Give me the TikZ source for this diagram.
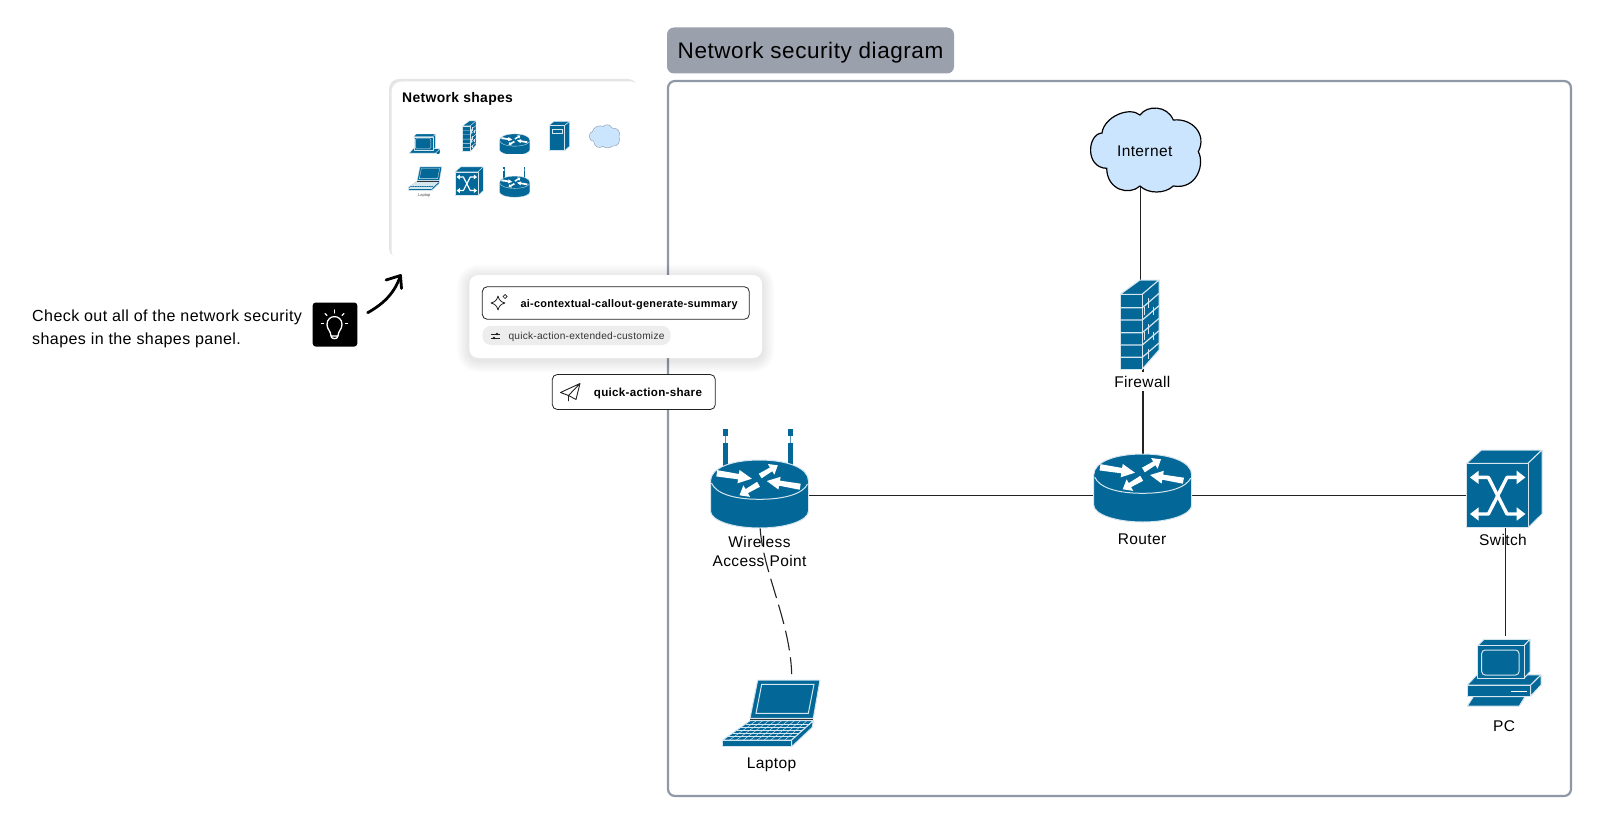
\documentclass[tikz,border=0pt]{standalone}
\usepackage{fontspec}
\setmainfont{Liberation Sans}
\newfontfamily\uifont[LetterSpace=2.5]{Liberation Sans}
\newfontfamily\uibold[LetterSpace=2.5]{Liberation Sans Bold}
\usetikzlibrary{calc,arrows.meta}
\definecolor{iconblue}{HTML}{036897}
\definecolor{iconlight}{HTML}{D5E6EF}
\definecolor{cloudblue}{HTML}{CCE5FF}
\definecolor{framegray}{HTML}{8F98A6}
\definecolor{titlegray}{HTML}{9AA1AC}
\definecolor{inkdark}{HTML}{222222}
\newcommand\ks{1}
\newcommand\iconarrow[5]{%
  \coordinate (N) at ($(#1)!.62!(#2)$);
  \fill[white] ($(#1)!#3!90:(#2)$) -- ($(N)!#4!90:(#2)$) -- ($(N)!#5!90:(#2)$) -- (#2)
    -- ($(N)!#5!-90:(#2)$) -- ($(N)!#4!-90:(#2)$) -- ($(#1)!#3!-90:(#2)$) -- cycle;}
\newcommand\routerbody{%
    \path[iconface] (-49,-13) -- (-49,17) .. controls (-49,26.4) and (-27,34) .. (0,34)
      .. controls (27,34) and (49,26.4) .. (49,17) -- (49,-13)
      .. controls (49,-26.4) and (27,-34) .. (0,-34) .. controls (-27,-34) and (-49,-26.4) .. (-49,-13) -- cycle;
    \path[draw=iconlight,line width=\ks pt] (-48,-11) .. controls (-44,-1) and (-27,5.3) .. (0,5.3)
      .. controls (27,5.3) and (44,-1) .. (48,-10);
    \iconarrow{-42.7,-20.7}{-7.7,-15.3}{.09}{.2}{.5}
    \iconarrow{-1,-9.7}{-20,1.3}{.13}{.28}{.8}
    \iconarrow{0.7,-18}{18.3,-28.7}{.13}{.28}{.8}
    \iconarrow{40.7,-7.3}{7.3,-13}{.09}{.2}{.5}
}
\tikzset{
  iconface/.style={fill=iconblue,draw=iconlight,line width=\ks pt,line join=round},
  iconline/.style={draw=iconlight,line width=\ks pt},
  iconbox/.style={inner sep=0pt,outer sep=0pt,draw=none,fill=none},
  label/.style={font=\uifont\fontsize{15.5}{18}\selectfont,inner sep=0pt,text=black,align=center},
  wire/.style={draw=inkdark,line width=1pt},
  router/.pic={\routerbody},
  wifirouter/.pic={
    \foreach \sx in {-34,31}{
      \fill[iconblue] (\sx-2.5,-65) rectangle (\sx+2.5,-58);
      \draw[iconblue!70!white,line width=.8*\ks pt] (\sx,-58) -- (\sx,-51);
      \fill[iconblue] (\sx-2.5,-51) rectangle (\sx+2.5,-20);
    }
    \routerbody
  },
  switchicon/.pic={
    \path[iconface] (-37.7,-25.7) -- (-23,-39) -- (37.6,-39) -- (23.6,-25.7) -- cycle;
    \path[iconface] (23.6,-25.7) -- (37.6,-39) -- (37.6,25) -- (23.6,38.7) -- cycle;
    \path[iconface] (-37.7,-25.7) rectangle (23.6,38.7);
    \begin{scope}[shift={(-6.7,6.7)}]
      \draw[white,line width=3.4*\ks pt,line join=round] (-23,-18.3) -- (-9.3,-18.3) -- (9.3,18.3) -- (23,18.3);
      \draw[white,line width=3.4*\ks pt,line join=round] (-23,18.3) -- (-9.3,18.3) -- (9.3,-18.3) -- (23,-18.3);
      \fill[white] (-27.7,-18.3) -- (-19,-25) -- (-19,-11.6) -- cycle;
      \fill[white] (27.7,-18.3) -- (19,-25) -- (19,-11.6) -- cycle;
      \fill[white] (-27.7,18.3) -- (-19,25) -- (-19,11.6) -- cycle;
      \fill[white] (27.7,18.3) -- (19,25) -- (19,11.6) -- cycle;
    \end{scope}
  },
  firewallicon/.pic={
    \path[iconface] (-19.4,-30.2) -- (0.3,-44.5) -- (19.3,-44.5) -- (2.6,-30.2) -- cycle;
    \path[iconface] (2.6,-30.2) -- (19.3,-44.5) -- (19.3,25.5) -- (2.6,44.5) -- cycle;
    \path[iconface] (-19.4,-30.2) rectangle (2.6,44.5);
    \foreach \yy in {-16.8,-4.5,8.2,20.5,32.8}{
      \draw[iconline,line width=1.2*\ks pt] (-19.4,\yy) -- (2.6,\yy) -- (19.3,\yy-14.3);
    }
    \foreach \yy/\xx in {-30.2/9,-4.5/9,20.5/9}{
      \draw[iconline] (\xx,\yy+4) -- (\xx,\yy+14);
    }
    \foreach \yy/\xx in {-16.8/14,8.2/14,-16.8/5,8.2/5}{
      \draw[iconline] (\xx,\yy-1) -- (\xx,\yy+7);
    }
  },
  pcicon/.pic={
    \path[iconface] (-26.5,1.3) -- (-36.9,12.3) -- (26.5,12.3) -- (36.8,2.3) -- cycle;
    \path[iconface] (26.5,12.3) -- (36.8,2.3) -- (36.8,12.3) -- (26.5,23.3) -- cycle;
    \path[iconface] (-36.9,12.3) rectangle (26.5,23.3);
    \draw[draw=white,line width=\ks pt] (6.8,18.3) -- (22.5,18.3);
    \path[iconface] (-30.9,24) -- (20.8,24) -- (15.1,33.3) -- (-36.9,33.3) -- cycle;
    \path[iconface] (-26.5,-27) -- (-20.2,-33.4) -- (25.8,-33.4) -- (19.8,-27) -- cycle;
    \path[iconface] (19.8,-27) -- (25.8,-33.4) -- (25.8,-1) -- (19.8,5.6) -- cycle;
    \path[iconface] (-26.5,-27) rectangle (19.8,5.6);
    \draw[iconline,rounded corners=3.5*\ks pt] (-22.5,-22.7) rectangle (14.8,2.3);
  },
  laptopicon/.pic={
    \path[iconface] (-13.6,-33.5) -- (48.7,-33.5) -- (42,4.8) -- (-21.3,4.8) -- cycle;
    \draw[iconline] (-9.6,-29.2) -- (42.7,-29.2) -- (37,-0.2) -- (-15.3,-0.2) -- cycle;
    \path[iconface] (-21.3,7.2) -- (42,7.2) -- (20.4,26.5) -- (-48.6,26.5) -- cycle;
    \path[iconface] (-48.6,26.5) rectangle (20.4,33.2);
    \path[iconface] (42,7.2) -- (41,13.8) -- (20.4,33.2) -- (20.4,26.5) -- cycle;
    \foreach \ff in {.16,.32,.48,.64,.8}{
      \draw[iconlight,line width=.45*\ks pt] ($(-21.3,7.2)!\ff!(-48.6,26.5)$) -- ($(42,7.2)!\ff!(20.4,26.5)$);
    }
    \foreach \ff in {.1,.2,.3,.4,.5,.6,.7,.8,.9}{
      \draw[iconlight,line width=.45*\ks pt] ($(-21.3,7.2)!\ff!(42,7.2)$) -- ($(-48.6,26.5)!\ff!(20.4,26.5)$);
    }
    \draw[black!80,line width=1*\ks pt] (-21.3,6) -- (42,6);
  },
  serveicon/.pic={
    \path[iconface] (-10.3,-10.6) -- (-5.3,-14.6) -- (10.4,-14.6) -- (5.4,-10.6) -- cycle;
    \path[iconface] (5.4,-10.6) -- (10.4,-14.6) -- (10.4,10) -- (5.4,14.6) -- cycle;
    \path[iconface] (-10.3,-10.6) rectangle (5.4,14.6);
    \draw[iconline] (-7.5,-7) rectangle (2.5,-3);
  },
  cloudicon/.pic={
    \path[pic actions] (-43,-17) .. controls (-41,-33) and (-16,-44) .. (-5,-35)
      .. controls (2,-45) and (22,-45) .. (28.3,-30)
      .. controls (48,-32) and (62,-15) .. (53.3,1.7)
      .. controls (60,14) and (52,40) .. (28.3,36)
      .. controls (20,44) and (3,44) .. (-5,36)
      .. controls (-16,46) and (-38,40) .. (-38.3,18.3)
      .. controls (-60,18) and (-58,-16) .. (-43,-17) -- cycle;
  },
}
\begin{document}
\begin{tikzpicture}[x=1pt,y=-1pt]
\useasboundingbox (0,0) rectangle (1600,824);
\fill[white] (0,0) rectangle (1600,824);

% frame and title
\draw[framegray,line width=2.2pt,rounded corners=7pt] (668,81) rectangle (1571,796);
\node[fill=titlegray,rounded corners=7pt,minimum width=287pt,minimum height=46pt,inner sep=0pt] (title) at (810.5,50.5) {};
\node[font=\uifont\fontsize{22.5}{26}\selectfont,anchor=west,inner sep=0pt] (titletext) at (677.5,53) {Network security diagram};

% icon anchors
\node[iconbox,minimum width=112pt,minimum height=83pt] (internet) at (1145,150) {};
\node[iconbox,minimum width=39pt,minimum height=89pt] (firewall) at (1139.7,324.5) {};
\node[iconbox,minimum width=98pt,minimum height=68pt] (routernode) at (1142.7,488) {};
\node[iconbox,minimum width=98pt,minimum height=65pt] (wap) at (759.5,494) {};
\node[iconbox,minimum width=75pt,minimum height=78pt] (switchnode) at (1504.4,489) {};
\node[iconbox,minimum width=74pt,minimum height=66pt] (pc) at (1504.2,672.7) {};
\node[iconbox,minimum width=97pt,minimum height=67pt] (laptop) at (771.3,713.5) {};
\coordinate (netdrop) at (1140.3,185);
\coordinate (fwtop) at (1140.3,280);
\coordinate (fwbot) at (1142.7,369);
\coordinate (rttop) at (1142.7,454);
\coordinate (wapbot) at (760,526);
\coordinate (lapwire) at (791.7,674);
\coordinate (swbot) at (1505,527);
\coordinate (pctop) at (1505,636);

% connectors
\draw[wire] (netdrop) -- (fwtop);
\draw[wire,line width=2pt] (fwbot) -- (rttop);
\draw[wire] ([yshift=-1.5pt]wap.east) -- ([yshift=-7.5pt]routernode.west);
\draw[wire] ([yshift=-7.5pt]routernode.east) -- ([yshift=-6.5pt]switchnode.west);
\draw[wire] (swbot) -- (pctop);
\draw[wire,line width=1.1pt,dash pattern=on 20pt off 7pt] (wapbot) .. controls (762,570) and (790,620) .. (lapwire);

% icons
\pic[fill=cloudblue,draw=black,line width=1.2pt] at (1145,150) {cloudicon};
\pic at (1139.7,324.5) {firewallicon};
\pic at (1142.7,488) {router};
\pic at (759.5,494) {wifirouter};
\pic at (1504.4,489) {switchicon};
\pic at (1504.2,672.7) {pcicon};
\pic at (771.3,713.5) {laptopicon};

% labels
\node[label] (lblinternet) at (1144.7,151) {Internet};
\node[label,fill=white,inner xsep=2pt,inner ysep=4pt] (lblfirewall) at (1142.3,381.7) {Firewall};
\node[label] (lblrouter) at (1142,539) {Router};
\node[label,text width=110pt,font=\uifont\fontsize{15.5}{19}\selectfont] (lblwap) at (759.5,551) {Wireless\\Access Point};
\node[label] (lblswitch) at (1503,540) {Switch};
\node[label] (lblpc) at (1504,726.5) {PC};
\node[label] (lbllaptop) at (771.5,764.5) {Laptop};

% tip
\node[font=\uifont\fontsize{16.05}{23}\selectfont,align=left,anchor=north west,inner sep=0pt] (tiptext) at (32,310) {Check out all of the network security\\shapes in the shapes panel.};
\node[fill=black,rounded corners=3pt,minimum width=44.6pt,minimum height=44pt,inner sep=0pt] (bulb) at (335,324.5) {};
\begin{scope}[white,line width=1.3pt,line cap=round,line join=round]
  \draw (331,336) .. controls (331,331) and (327,329.5) .. (327,324.5)
    .. controls (327,314) and (342,314) .. (342,324.5) .. controls (342,329.5) and (338,331) .. (338,336)
    .. controls (338,339.5) and (331,339.5) .. (331,336) -- (338,336);
  \draw (334.5,310) -- (334.5,313);
  \draw (325,313.5) -- (327,315.5);
  \draw (344,313.5) -- (342,315.5);
  \draw (321.5,323.5) -- (323.5,323.5);
  \draw (345.5,323.5) -- (347.5,323.5);
\end{scope}
\coordinate (arrowstart) at (367.7,312.7);
\coordinate (arrowtip) at (400.5,275.5);
\draw[black,line width=2.8pt,line cap=round,line join=round] (arrowstart) .. controls (385,303) and (395,292) .. (arrowtip);
\draw[black,line width=2.8pt,line cap=round,line join=round] (386,280) -- (arrowtip) -- (401.5,288.5);

% shapes panel
\fill[black!10,rounded corners=10pt] (389,79) rectangle (638,258);
\fill[white,rounded corners=10pt] (391.5,81.5) rectangle (641,261);
\fill[white] (620,255) rectangle (645,265);
\node[font=\uibold\fontsize{13.9}{16}\selectfont,anchor=west,inner sep=0pt] (paneltitle) at (402,98.5) {Network shapes};
\begin{scope}\renewcommand\ks{.35}
  \begin{scope}
    \clip (395,125) rectangle (445,153.5);
    \pic[scale=.415] at (424.7,147.9) {pcicon};
  \end{scope}
  \pic[scale=.345] at (469.3,136.3) {firewallicon};
  \begin{scope}
    \clip (490,125) rectangle (540,153.5);
    \pic[scale=.31] at (514.7,144.5) {router};
  \end{scope}
  \begin{scope}\renewcommand\ks{.5}\pic at (559.3,136) {serveicon};\end{scope}
  \pic[scale=.275,fill=cloudblue,draw=black!35!cloudblue,line width=.4pt] at (604.3,136.3) {cloudicon};
  \pic[scale=.35] at (424.7,178.7) {laptopicon};
  \pic[scale=.37] at (469.3,181.3) {switchicon};
  \pic[scale=.31] at (514.7,186.7) {wifirouter};
\end{scope}
\node[font=\fontsize{4}{5}\selectfont,inner sep=0pt,text=black!70] (smalllaptop) at (424.3,195.3) {Laptop};

% callout card
\foreach \gg in {12,10,8,6,4,2}{
  \fill[black,opacity=.014,rounded corners=9pt+\gg pt] (469.3-\gg,275-\gg+2) rectangle (762+\gg,358+\gg+2);
}
\node[fill=white,rounded corners=9pt,minimum width=292.7pt,minimum height=83pt,inner sep=0pt] (card) at (615.65,316.5) {};
\node[draw=inkdark,fill=white,line width=.8pt,rounded corners=5pt,minimum width=267pt,minimum height=32.6pt,inner sep=0pt] (summarybox) at (615.8,303) {};
\node[font=\uibold\fontsize{10.9}{12}\selectfont,anchor=west,inner sep=0pt] (summarytext) at (520.3,304.3) {ai-contextual-callout-generate-summary};
\draw[inkdark,line width=.8pt,line join=round] (498,296) .. controls (499,300) and (501,302) .. (505,303)
  .. controls (501,304) and (499,306) .. (498,310) .. controls (497,306) and (495,304) .. (491,303)
  .. controls (495,302) and (497,300) .. (498,296) -- cycle;
\draw[inkdark,line width=.7pt] (505,294.5) -- (507,296.5) -- (505,298.5) -- (503,296.5) -- cycle;
\node[fill=black!7,rounded corners=9pt,minimum width=188.4pt,minimum height=19.3pt,inner sep=0pt] (customizepill) at (576.5,335.4) {};
\node[font=\uifont\fontsize{10.15}{12}\selectfont,anchor=west,inner sep=0pt,text=black!80] (customizetext) at (508.3,336.9) {quick-action-extended-customize};
\begin{scope}[inkdark,line width=.7pt]
  \draw (491,334) -- (500,334); \draw (491,338) -- (500,338);
  \fill (497,334) circle (1.3pt); \fill (494,338) circle (1.3pt);
\end{scope}

% share button
\node[draw=inkdark,fill=white,line width=.8pt,rounded corners=5pt,minimum width=163pt,minimum height=35pt,inner sep=0pt] (sharebox) at (633.8,392) {};
\node[font=\uibold\fontsize{11.6}{13}\selectfont,anchor=west,inner sep=0pt] (sharetext) at (593.7,393.3) {quick-action-share};
\draw[inkdark,line width=.9pt,line join=round] (580,383.5) -- (560.5,392.5) -- (568.5,395.5) -- (580,383.5) -- (576,399.5) -- (568.5,395.5) -- (568.5,401);
\end{tikzpicture}
\end{document}
